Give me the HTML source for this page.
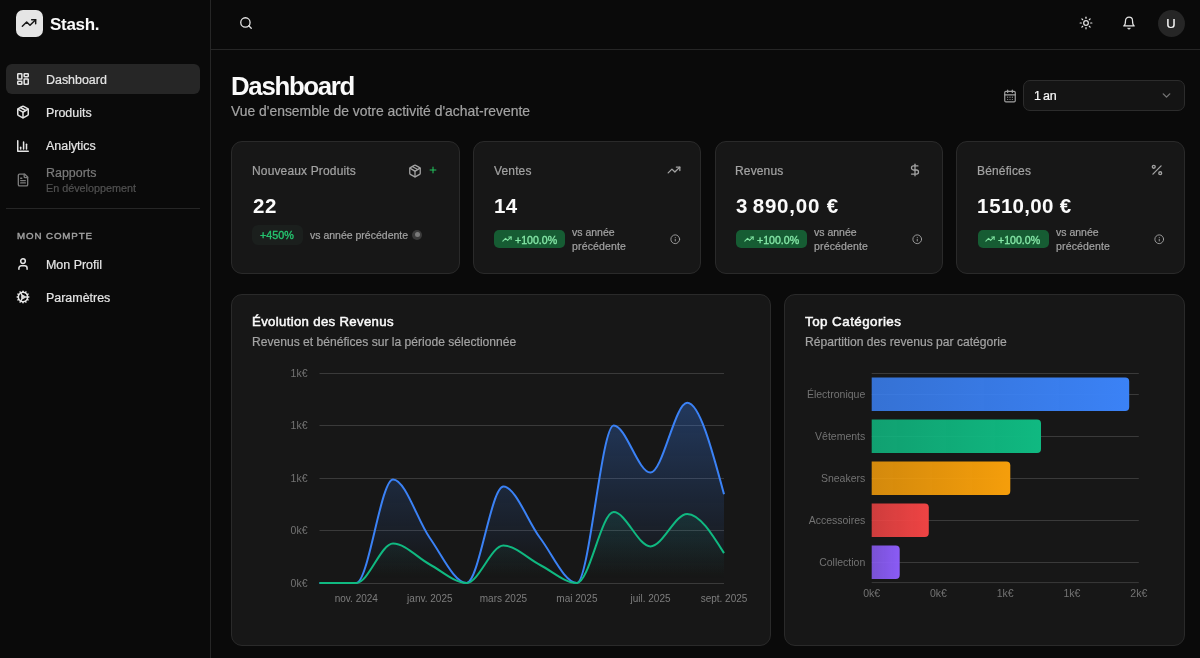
<!DOCTYPE html>
<html><head><meta charset="utf-8">
<style>
*{margin:0;padding:0;box-sizing:border-box}
html,body{width:1200px;height:658px;overflow:hidden;background:#0a0a0a;font-family:"Liberation Sans",sans-serif;color:#fafafa}
.a{position:absolute}
svg.i{position:absolute;fill:none;stroke:currentColor;stroke-width:2.6;stroke-linecap:round;stroke-linejoin:round}
.t{position:absolute;white-space:nowrap;line-height:1;will-change:transform;-webkit-text-stroke:0.2px currentColor}
.nb{-webkit-text-stroke:0}
#sb{position:absolute;left:0;top:0;width:211px;height:658px;border-right:1px solid #262626;background:#0a0a0a}
#hd{position:absolute;left:211px;top:0;width:989px;height:50px;border-bottom:1px solid #262626}
.nav{position:absolute;left:6px;width:194px;height:30px;border-radius:6px}
.nav.act{background:#262626}
.card{position:absolute;background:#171717;border:1px solid #2a2a2a;border-radius:11px}
.lbl{color:#a3a3a3}
</style></head><body>
<div id="sb">
  <!-- logo -->
  <div class="a" style="left:16px;top:10px;width:27px;height:27px;border-radius:7px;background:#e5e5e5"></div>
  <svg class="i" style="left:21.2px;top:14.8px;color:#171717;stroke-width:2.2" width="16" height="16" viewBox="0 0 24 24"><polyline points="22 7 13.5 15.5 8.5 10.5 2 17"/><polyline points="16 7 22 7 22 13"/></svg>
  <div class="t nb" style="left:50.3px;top:15.6px;font-size:17px;letter-spacing:-0.3px;font-weight:700;color:#fafafa">Stash.</div>

  <div class="nav act" style="top:64px"></div>
  <svg class="i" style="left:16px;top:72px;color:#e5e5e5" width="14" height="14" viewBox="0 0 24 24"><rect width="7" height="9" x="3" y="3" rx="1"/><rect width="7" height="5" x="14" y="3" rx="1"/><rect width="7" height="9" x="14" y="12" rx="1"/><rect width="7" height="5" x="3" y="16" rx="1"/></svg>
  <div class="t" style="left:46.3px;top:74px;font-size:12.45px;color:#e5e5e5">Dashboard</div>

  <svg class="i" style="left:16px;top:105px;color:#e5e5e5" width="14" height="14" viewBox="0 0 24 24"><path d="M11 21.73a2 2 0 0 0 2 0l7-4A2 2 0 0 0 21 16V8a2 2 0 0 0-1-1.73l-7-4a2 2 0 0 0-2 0l-7 4A2 2 0 0 0 3 8v8a2 2 0 0 0 1 1.73z"/><path d="M12 22V12"/><path d="m3.3 7 7.703 4.734a2 2 0 0 0 1.994 0L20.7 7"/><path d="m7.5 4.27 9 5.15"/></svg>
  <div class="t" style="left:46.3px;top:107px;font-size:12.45px;color:#e5e5e5">Produits</div>

  <svg class="i" style="left:16px;top:139px;color:#e5e5e5" width="14" height="14" viewBox="0 0 24 24"><path d="M3 3v18h18"/><path d="M18 17V9"/><path d="M13 17V5"/><path d="M8 17v-3"/></svg>
  <div class="t" style="left:46.3px;top:140px;font-size:12.45px;color:#e5e5e5">Analytics</div>

  <svg class="i" style="left:16px;top:172.7px;color:#7b7b7b;stroke-width:2.3" width="14" height="14" viewBox="0 0 24 24"><path d="M15 2H6a2 2 0 0 0-2 2v16a2 2 0 0 0 2 2h12a2 2 0 0 0 2-2V7Z"/><path d="M14 2v4a2 2 0 0 0 2 2h4"/><path d="M10 9H8"/><path d="M16 13H8"/><path d="M16 17H8"/></svg>
  <div class="t" style="left:46.3px;top:167px;font-size:12.45px;color:#7b7b7b">Rapports</div>
  <div class="t" style="left:46px;top:183px;font-size:10.8px;color:#525252">En développement</div>

  <div class="a" style="left:6px;top:208px;width:194px;height:1px;background:#262626"></div>
  <div class="t" style="left:16.6px;top:231.0px;font-size:9.7px;letter-spacing:0.92px;-webkit-text-stroke:0.4px currentColor;color:#a3a3a3">MON COMPTE</div>

  <svg class="i" style="left:16px;top:256.6px;color:#e5e5e5" width="14" height="14" viewBox="0 0 24 24"><path d="M19 21v-2a4 4 0 0 0-4-4H9a4 4 0 0 0-4 4v2"/><circle cx="12" cy="7" r="4"/></svg>
  <div class="t" style="left:46.3px;top:258.5px;font-size:12.45px;color:#e5e5e5">Mon Profil</div>

  <svg class="i" style="left:16px;top:290px;color:#e5e5e5" width="14" height="14" viewBox="0 0 24 24"><path d="M12 20a8 8 0 1 0 0-16 8 8 0 0 0 0 16Z"/><path d="M12 14a2 2 0 1 0 0-4 2 2 0 0 0 0 4Z"/><path d="M12 2v2"/><path d="M12 22v-2"/><path d="m17 20.66-1-1.73"/><path d="M11 10.27 7 3.34"/><path d="m20.66 17-1.73-1"/><path d="m3.34 7 1.73 1"/><path d="M14 12h8"/><path d="M2 12h2"/><path d="m20.66 7-1.73 1"/><path d="m3.34 17 1.73-1"/><path d="m17 3.34-1 1.73"/><path d="m11 13.73-4 6.93"/></svg>
  <div class="t" style="left:46.3px;top:292.0px;font-size:12.45px;color:#e5e5e5">Paramètres</div>
</div>

<div id="hd">
  <svg class="i" style="left:28.3px;top:15.7px;color:#e5e5e5;stroke-width:2.2" width="14" height="14" viewBox="0 0 24 24"><circle cx="11" cy="11" r="8"/><path d="m21 21-4.3-4.3"/></svg>
  <svg class="i" style="left:867.7px;top:16px;color:#e5e5e5;stroke-width:2.1" width="14" height="14" viewBox="0 0 24 24"><circle cx="12" cy="12" r="4"/><path d="M12 2v2"/><path d="M12 20v2"/><path d="m4.93 4.93 1.41 1.41"/><path d="m17.66 17.66 1.41 1.41"/><path d="M2 12h2"/><path d="M20 12h2"/><path d="m6.34 17.66-1.41 1.41"/><path d="m19.07 4.93-1.41 1.41"/></svg>
  <svg class="i" style="left:911.1px;top:16.3px;color:#e5e5e5;stroke-width:2.1" width="14" height="14" viewBox="0 0 24 24"><path d="M6 8a6 6 0 0 1 12 0c0 7 3 9 3 9H3s3-2 3-9"/><path d="M10.3 21a1.94 1.94 0 0 0 3.4 0"/></svg>
  <div class="a" style="left:946.7px;top:9.5px;width:27px;height:27px;border-radius:50%;background:#262626"></div>
  <div class="t" style="left:946px;top:17px;width:28px;text-align:center;font-size:13px;color:#fafafa">U</div>
</div>

<!-- title -->
<div class="t nb" style="left:231.4px;top:74.1px;font-size:25.8px;font-weight:700;letter-spacing:-1.3px;color:#fafafa">Dashboard</div>
<div class="t" style="left:231px;top:105px;font-size:13.9px;color:#a3a3a3">Vue d'ensemble de votre activité d'achat-revente</div>

<svg class="i" style="left:1003px;top:88.8px;color:#a3a3a3;stroke-width:2.0" width="14" height="14" viewBox="0 0 24 24"><rect width="18" height="18" x="3" y="4" rx="2"/><path d="M16 2v4"/><path d="M8 2v4"/><path d="M3 10h18"/><path d="M8 14h.01"/><path d="M12 14h.01"/><path d="M16 14h.01"/><path d="M8 18h.01"/><path d="M12 18h.01"/><path d="M16 18h.01"/></svg>
<div class="a" style="left:1023px;top:80px;width:162px;height:31px;border:1px solid #2c2c2c;border-radius:7px;background:#141414"></div>
<div class="t" style="left:1033.6px;top:90px;font-size:12.5px;color:#fafafa">1</div><div class="t" style="left:1043.2px;top:90px;font-size:12.5px;letter-spacing:-0.2px;color:#fafafa">an</div>
<svg class="i" style="left:1160px;top:89px;color:#737373" width="13" height="13" viewBox="0 0 24 24"><path d="m6 9 6 6 6-6"/></svg>

<div class="card" style="left:231.00px;top:141px;width:228.6px;height:133px"></div>
<div class="card" style="left:472.80px;top:141px;width:228.6px;height:133px"></div>
<div class="card" style="left:714.60px;top:141px;width:228.6px;height:133px"></div>
<div class="card" style="left:956.40px;top:141px;width:228.6px;height:133px"></div>
<div class="t" style="left:251.60px;top:164.84px;font-size:12.0px;color:#a3a3a3;letter-spacing:0.15px">Nouveaux Produits</div>
<svg class="i" style="left:407.80px;top:163.50px;color:#a3a3a3;stroke-width:2.2" width="14" height="14" viewBox="0 0 24 24"><path d="M11 21.73a2 2 0 0 0 2 0l7-4A2 2 0 0 0 21 16V8a2 2 0 0 0-1-1.73l-7-4a2 2 0 0 0-2 0l-7 4A2 2 0 0 0 3 8v8a2 2 0 0 0 1 1.73z"/><path d="M12 22V12"/><path d="m3.3 7 7.703 4.734a2 2 0 0 0 1.994 0L20.7 7"/><path d="m7.5 4.27 9 5.15"/></svg>
<svg class="i" style="left:428.30px;top:165.30px;color:#22c55e;stroke-width:2.4" width="10" height="10" viewBox="0 0 24 24"><path d="M5 12h14"/><path d="M12 5v14"/></svg>
<div class="t nb" style="left:252.50px;top:195.95px;font-size:20.5px;font-weight:700;letter-spacing:0.5px;color:#fafafa">22</div>
<div class="a" style="left:252.3px;top:225.4px;width:50.5px;height:19.8px;border-radius:6px;background:#1b1f1d"></div>
<div class="t" style="left:260.30px;top:229.56px;font-size:10.8px;color:#25c46f;-webkit-text-stroke:0.35px currentColor">+450%</div>
<div class="t" style="left:309.80px;top:229.81px;font-size:10.5px;color:#a3a3a3">vs année précédente</div>
<div class="a" style="left:412px;top:229.8px;width:10px;height:10px;border-radius:50%;background:#3a3a3a"></div>
<div class="a" style="left:414.5px;top:232.3px;width:5px;height:5px;border-radius:50%;background:#7a7a7a"></div>
<div class="t" style="left:494.30px;top:164.84px;font-size:12.0px;color:#a3a3a3;letter-spacing:0.15px">Ventes</div>
<svg class="i" style="left:666.80px;top:163.20px;color:#a3a3a3;stroke-width:2.2" width="14" height="14" viewBox="0 0 24 24"><polyline points="22 7 13.5 15.5 8.5 10.5 2 17"/><polyline points="16 7 22 7 22 13"/></svg>
<div class="t nb" style="left:494.30px;top:195.95px;font-size:20.5px;font-weight:700;letter-spacing:0.3px;color:#fafafa">14</div>
<div class="a" style="left:494.20px;top:229.8px;width:70.8px;height:18.4px;border-radius:5px;background:#165c33"></div>
<svg class="i" style="left:501.80px;top:233.70px;color:#7ee2a0;stroke-width:2.6" width="10" height="10" viewBox="0 0 24 24"><polyline points="22 7 13.5 15.5 8.5 10.5 2 17"/><polyline points="16 7 22 7 22 13"/></svg>
<div class="t" style="left:514.80px;top:234.83px;font-size:10.6px;color:#86e8a8;-webkit-text-stroke:0.3px currentColor">+100.0%</div>
<div class="t" style="left:572.20px;top:227.41px;font-size:10.5px;color:#a3a3a3">vs année</div>
<div class="t" style="left:572.20px;top:240.81px;font-size:10.5px;color:#a3a3a3;letter-spacing:0.15px">précédente</div>
<svg class="i" style="left:670.05px;top:234.05px;color:#a3a3a3;stroke-width:2.1" width="10.5" height="10.5" viewBox="0 0 24 24"><circle cx="12" cy="12" r="10"/><path d="M12 16v-4"/><path d="M12 8h.01"/></svg>
<div class="t" style="left:734.90px;top:164.84px;font-size:12.0px;color:#a3a3a3;letter-spacing:0.15px">Revenus</div>
<svg class="i" style="left:907.60px;top:163.20px;color:#a3a3a3;stroke-width:2.2" width="14" height="14" viewBox="0 0 24 24"><line x1="12" x2="12" y1="2" y2="22"/><path d="M17 5H9.5a3.5 3.5 0 0 0 0 7h5a3.5 3.5 0 0 1 0 7H6"/></svg>
<div class="t nb" style="left:736.10px;top:195.95px;font-size:20.5px;font-weight:700;letter-spacing:0.8px;color:#fafafa">3<span style="margin-left:4.5px"></span>890,00 €</div>
<div class="a" style="left:736.00px;top:229.8px;width:70.8px;height:18.4px;border-radius:5px;background:#165c33"></div>
<svg class="i" style="left:743.60px;top:233.70px;color:#7ee2a0;stroke-width:2.6" width="10" height="10" viewBox="0 0 24 24"><polyline points="22 7 13.5 15.5 8.5 10.5 2 17"/><polyline points="16 7 22 7 22 13"/></svg>
<div class="t" style="left:756.60px;top:234.83px;font-size:10.6px;color:#86e8a8;-webkit-text-stroke:0.3px currentColor">+100.0%</div>
<div class="t" style="left:814.00px;top:227.41px;font-size:10.5px;color:#a3a3a3">vs année</div>
<div class="t" style="left:814.00px;top:240.81px;font-size:10.5px;color:#a3a3a3;letter-spacing:0.15px">précédente</div>
<svg class="i" style="left:911.85px;top:234.05px;color:#a3a3a3;stroke-width:2.1" width="10.5" height="10.5" viewBox="0 0 24 24"><circle cx="12" cy="12" r="10"/><path d="M12 16v-4"/><path d="M12 8h.01"/></svg>
<div class="t" style="left:976.70px;top:164.84px;font-size:12.0px;color:#a3a3a3;letter-spacing:0.15px">Bénéfices</div>
<svg class="i" style="left:1150.40px;top:163.20px;color:#a3a3a3;stroke-width:2.2" width="14" height="14" viewBox="0 0 24 24"><line x1="19" x2="5" y1="5" y2="19"/><circle cx="6.5" cy="6.5" r="2.5"/><circle cx="17.5" cy="17.5" r="2.5"/></svg>
<div class="t nb" style="left:976.90px;top:195.95px;font-size:20.5px;font-weight:700;letter-spacing:0.3px;color:#fafafa">1<span style="margin-left:0.5px"></span>510,00 €</div>
<div class="a" style="left:977.80px;top:229.8px;width:70.8px;height:18.4px;border-radius:5px;background:#165c33"></div>
<svg class="i" style="left:985.40px;top:233.70px;color:#7ee2a0;stroke-width:2.6" width="10" height="10" viewBox="0 0 24 24"><polyline points="22 7 13.5 15.5 8.5 10.5 2 17"/><polyline points="16 7 22 7 22 13"/></svg>
<div class="t" style="left:998.40px;top:234.83px;font-size:10.6px;color:#86e8a8;-webkit-text-stroke:0.3px currentColor">+100.0%</div>
<div class="t" style="left:1055.80px;top:227.41px;font-size:10.5px;color:#a3a3a3">vs année</div>
<div class="t" style="left:1055.80px;top:240.81px;font-size:10.5px;color:#a3a3a3;letter-spacing:0.15px">précédente</div>
<svg class="i" style="left:1153.65px;top:234.05px;color:#a3a3a3;stroke-width:2.1" width="10.5" height="10.5" viewBox="0 0 24 24"><circle cx="12" cy="12" r="10"/><path d="M12 16v-4"/><path d="M12 8h.01"/></svg><div class="card" style="left:231px;top:294px;width:539.5px;height:352px"></div>
<div class="card" style="left:784px;top:294px;width:401px;height:352px"></div>
<div class="t" style="left:251.80px;top:315.03px;font-size:13.2px;color:#fafafa;letter-spacing:0.33px;-webkit-text-stroke:0.5px currentColor">Évolution des Revenus</div>
<div class="t" style="left:251.70px;top:335.96px;font-size:12.1px;color:#a3a3a3">Revenus et bénéfices sur la période sélectionnée</div>
<div class="t" style="left:805.00px;top:314.86px;font-size:13.4px;color:#fafafa;letter-spacing:0.45px;-webkit-text-stroke:0.5px currentColor">Top Catégories</div>
<div class="t" style="left:804.70px;top:336.16px;font-size:12.1px;color:#a3a3a3">Répartition des revenus par catégorie</div>
<svg class="a" style="left:0;top:0;will-change:transform" width="1200" height="658" viewBox="0 0 1200 658">
<defs>
<linearGradient id="gb" x1="0" y1="0" x2="0" y2="1"><stop offset="5%" stop-color="#3b82f6" stop-opacity="0.3"/><stop offset="95%" stop-color="#3b82f6" stop-opacity="0"/></linearGradient>
<linearGradient id="gg" x1="0" y1="0" x2="0" y2="1"><stop offset="5%" stop-color="#10b981" stop-opacity="0.1"/><stop offset="95%" stop-color="#10b981" stop-opacity="0"/></linearGradient>
<linearGradient id="bb" x1="0" y1="0" x2="1" y2="0"><stop offset="0%" stop-color="#3b82f6" stop-opacity="0.85"/><stop offset="100%" stop-color="#3b82f6" stop-opacity="1"/></linearGradient>
<linearGradient id="bg2" x1="0" y1="0" x2="1" y2="0"><stop offset="0%" stop-color="#10b981" stop-opacity="0.85"/><stop offset="100%" stop-color="#10b981" stop-opacity="1"/></linearGradient>
<linearGradient id="bo" x1="0" y1="0" x2="1" y2="0"><stop offset="0%" stop-color="#f59e0b" stop-opacity="0.85"/><stop offset="100%" stop-color="#f59e0b" stop-opacity="1"/></linearGradient>
<linearGradient id="br" x1="0" y1="0" x2="1" y2="0"><stop offset="0%" stop-color="#ef4444" stop-opacity="0.85"/><stop offset="100%" stop-color="#ef4444" stop-opacity="1"/></linearGradient>
<linearGradient id="bp" x1="0" y1="0" x2="1" y2="0"><stop offset="0%" stop-color="#8b5cf6" stop-opacity="0.85"/><stop offset="100%" stop-color="#8b5cf6" stop-opacity="1"/></linearGradient>
</defs>
<g stroke="#3a3a3a" stroke-width="1"><line x1="319.5" x2="724" y1="373.5" y2="373.5"/><line x1="319.5" x2="724" y1="425.5" y2="425.5"/><line x1="319.5" x2="724" y1="478.5" y2="478.5"/><line x1="319.5" x2="724" y1="530.5" y2="530.5"/><line x1="319.5" x2="724" y1="583.5" y2="583.5"/></g>
<g font-family="Liberation Sans" font-size="9.6" fill="#737373"><text x="307.5" y="376.9" text-anchor="end" font-size="10.5">1k€</text><text x="307.5" y="429.4" text-anchor="end" font-size="10.5">1k€</text><text x="307.5" y="481.9" text-anchor="end" font-size="10.5">1k€</text><text x="307.5" y="534.4" text-anchor="end" font-size="10.5">0k€</text><text x="307.5" y="586.9" text-anchor="end" font-size="10.5">0k€</text><text x="356.3" y="602" text-anchor="middle" font-size="10" fill="#7d7d7d">nov. 2024</text><text x="429.8" y="602" text-anchor="middle" font-size="10" fill="#7d7d7d">janv. 2025</text><text x="503.4" y="602" text-anchor="middle" font-size="10" fill="#7d7d7d">mars 2025</text><text x="576.9" y="602" text-anchor="middle" font-size="10" fill="#7d7d7d">mai 2025</text><text x="650.5" y="602" text-anchor="middle" font-size="10" fill="#7d7d7d">juil. 2025</text><text x="724.0" y="602" text-anchor="middle" font-size="10" fill="#7d7d7d">sept. 2025</text></g>
<path d="M319.50,583.00C331.76,583.00,344.02,583.00,356.27,583.00C368.53,583.00,380.79,479.40,393.05,479.40C405.30,479.40,417.56,520.73,429.82,538.00C442.08,555.27,454.33,583.00,466.59,583.00C478.85,583.00,491.11,486.60,503.36,486.60C515.62,486.60,527.88,521.93,540.14,538.00C552.39,554.07,564.65,583.00,576.91,583.00C589.17,583.00,601.42,425.50,613.68,425.50C625.94,425.50,638.20,472.60,650.45,472.60C662.71,472.60,674.97,402.80,687.23,402.80C699.48,402.80,711.74,448.50,724.00,494.20L724.00,583.00L319.50,583.00Z" fill="url(#gb)"/>
<path d="M319.50,583.00C331.76,583.00,344.02,583.00,356.27,583.00C368.53,583.00,380.79,543.60,393.05,543.60C405.30,543.60,417.56,557.93,429.82,564.50C442.08,571.07,454.33,583.00,466.59,583.00C478.85,583.00,491.11,545.60,503.36,545.60C515.62,545.60,527.88,558.77,540.14,565.00C552.39,571.23,564.65,583.00,576.91,583.00C589.17,583.00,601.42,512.10,613.68,512.10C625.94,512.10,638.20,546.40,650.45,546.40C662.71,546.40,674.97,513.90,687.23,513.90C699.48,513.90,711.74,533.50,724.00,553.10L724.00,583.00L319.50,583.00Z" fill="url(#gg)"/>
<path d="M319.50,583.00C331.76,583.00,344.02,583.00,356.27,583.00C368.53,583.00,380.79,479.40,393.05,479.40C405.30,479.40,417.56,520.73,429.82,538.00C442.08,555.27,454.33,583.00,466.59,583.00C478.85,583.00,491.11,486.60,503.36,486.60C515.62,486.60,527.88,521.93,540.14,538.00C552.39,554.07,564.65,583.00,576.91,583.00C589.17,583.00,601.42,425.50,613.68,425.50C625.94,425.50,638.20,472.60,650.45,472.60C662.71,472.60,674.97,402.80,687.23,402.80C699.48,402.80,711.74,448.50,724.00,494.20" fill="none" stroke="#3b82f6" stroke-width="2"/>
<path d="M319.50,583.00C331.76,583.00,344.02,583.00,356.27,583.00C368.53,583.00,380.79,543.60,393.05,543.60C405.30,543.60,417.56,557.93,429.82,564.50C442.08,571.07,454.33,583.00,466.59,583.00C478.85,583.00,491.11,545.60,503.36,545.60C515.62,545.60,527.88,558.77,540.14,565.00C552.39,571.23,564.65,583.00,576.91,583.00C589.17,583.00,601.42,512.10,613.68,512.10C625.94,512.10,638.20,546.40,650.45,546.40C662.71,546.40,674.97,513.90,687.23,513.90C699.48,513.90,711.74,533.50,724.00,553.10" fill="none" stroke="#10b981" stroke-width="2"/>
<g stroke="#3a3a3a" stroke-width="1"><line x1="871.7" x2="1138.8" y1="373.5" y2="373.5"/><line x1="871.7" x2="1138.8" y1="394.5" y2="394.5"/><line x1="871.7" x2="1138.8" y1="436.5" y2="436.5"/><line x1="871.7" x2="1138.8" y1="478.5" y2="478.5"/><line x1="871.7" x2="1138.8" y1="520.5" y2="520.5"/><line x1="871.7" x2="1138.8" y1="562.5" y2="562.5"/><line x1="871.7" x2="1138.8" y1="582.6" y2="582.6"/></g>
<path d="M871.70,377.50H1125.20A4,4 0 0 1 1129.20,381.50V406.90A4,4 0 0 1 1125.20,410.90H871.70Z" fill="url(#bb)"/><path d="M871.70,419.50H1037.00A4,4 0 0 1 1041.00,423.50V448.90A4,4 0 0 1 1037.00,452.90H871.70Z" fill="url(#bg2)"/><path d="M871.70,461.50H1006.30A4,4 0 0 1 1010.30,465.50V490.90A4,4 0 0 1 1006.30,494.90H871.70Z" fill="url(#bo)"/><path d="M871.70,503.50H924.80A4,4 0 0 1 928.80,507.50V532.90A4,4 0 0 1 924.80,536.90H871.70Z" fill="url(#br)"/><path d="M871.70,545.50H895.70A4,4 0 0 1 899.70,549.50V574.90A4,4 0 0 1 895.70,578.90H871.70Z" fill="url(#bp)"/>
<g font-family="Liberation Sans" font-size="9.6" fill="#737373"><text x="865.3" y="398.3" text-anchor="end" font-size="10.5">Électronique</text><text x="865.3" y="440.3" text-anchor="end" font-size="10.5">Vêtements</text><text x="865.3" y="482.3" text-anchor="end" font-size="10.5">Sneakers</text><text x="865.3" y="524.3" text-anchor="end" font-size="10.5">Accessoires</text><text x="865.3" y="566.3" text-anchor="end" font-size="10.5">Collection</text><text x="871.7" y="597" text-anchor="middle" font-size="10.5">0k€</text><text x="938.5" y="597" text-anchor="middle" font-size="10.5">0k€</text><text x="1005.2" y="597" text-anchor="middle" font-size="10.5">1k€</text><text x="1072.0" y="597" text-anchor="middle" font-size="10.5">1k€</text><text x="1138.8" y="597" text-anchor="middle" font-size="10.5">2k€</text></g>
</svg>
</body></html>
